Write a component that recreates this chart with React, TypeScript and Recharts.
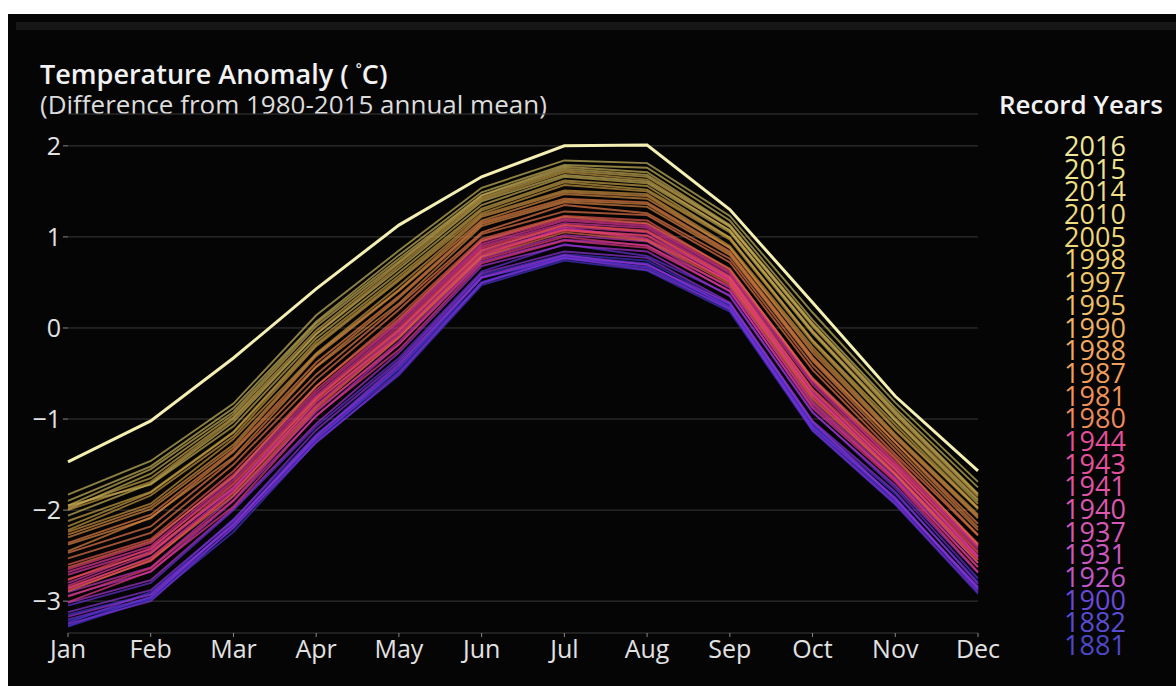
import { CartesianGrid, Line, LineChart, XAxis, YAxis } from 'recharts';

const months = ['Jan', 'Feb', 'Mar', 'Apr', 'May', 'Jun', 'Jul', 'Aug', 'Sep', 'Oct', 'Nov', 'Dec'];
const yTicks = [-3, -2, -1, 0, 1, 2];

// monthly anomaly per year (°C)
const y1881 = [-3.22, -2.97, -2.15, -1.24, -0.44, 0.5, 0.79, 0.66, 0.25, -1.06, -1.9, -2.84];
const y1882 = [-3.15, -2.92, -2.1, -1.18, -0.38, 0.58, 0.81, 0.74, 0.26, -1.05, -1.82, -2.79];
const y1884 = [-3.28, -2.98, -2.24, -1.25, -0.52, 0.47, 0.74, 0.63, 0.18, -1.13, -1.94, -2.92];
const y1887 = [-3.24, -2.9, -2.17, -1.17, -0.45, 0.55, 0.79, 0.71, 0.22, -1.08, -1.86, -2.87];
const y1893 = [-3.27, -2.95, -2.2, -1.21, -0.48, 0.5, 0.76, 0.67, 0.2, -1.1, -1.91, -2.86];
const y1900 = [-3.05, -2.8, -2.0, -1.08, -0.33, 0.62, 0.92, 0.79, 0.36, -0.92, -1.76, -2.75];
const y1904 = [-3.2, -2.96, -2.13, -1.22, -0.42, 0.55, 0.77, 0.7, 0.23, -1.09, -1.87, -2.88];
const y1909 = [-3.25, -3.0, -2.19, -1.26, -0.5, 0.49, 0.77, 0.64, 0.21, -1.12, -1.93, -2.9];
const y1913 = [-3.12, -2.88, -2.11, -1.12, -0.36, 0.6, 0.84, 0.77, 0.28, -1.02, -1.8, -2.81];
const y1917 = [-3.17, -2.93, -2.16, -1.19, -0.4, 0.56, 0.8, 0.69, 0.27, -1.03, -1.88, -2.85];
const y1921 = [-3.02, -2.77, -1.98, -1.05, -0.27, 0.68, 0.91, 0.84, 0.35, -0.93, -1.73, -2.69];
const y1926 = [-2.94, -2.68, -1.9, -0.97, -0.18, 0.73, 0.97, 0.91, 0.4, -0.86, -1.66, -2.62];
const y1931 = [-2.9, -2.63, -1.85, -0.92, -0.15, 0.77, 1.02, 0.95, 0.44, -0.81, -1.64, -2.58];
const y1937 = [-2.86, -2.52, -1.78, -0.85, -0.07, 0.8, 1.1, 0.98, 0.52, -0.72, -1.6, -2.52];
const y1940 = [-2.8, -2.45, -1.76, -0.77, -0.02, 0.86, 1.11, 1.05, 0.53, -0.7, -1.54, -2.51];
const y1941 = [-2.71, -2.43, -1.67, -0.74, 0.03, 0.9, 1.15, 1.1, 0.57, -0.62, -1.52, -2.42];
const y1943 = [-2.83, -2.48, -1.75, -0.82, -0.05, 0.84, 1.08, 1.02, 0.54, -0.73, -1.56, -2.5];
const y1944 = [-2.68, -2.4, -1.64, -0.71, 0.06, 0.92, 1.18, 1.12, 0.6, -0.59, -1.49, -2.4];
const y1950 = [-3.01, -2.67, -1.96, -0.96, -0.24, 0.71, 0.96, 0.88, 0.41, -0.88, -1.69, -2.68];
const y1953 = [-2.65, -2.36, -1.61, -0.68, 0.08, 0.95, 1.2, 1.14, 0.62, -0.57, -1.47, -2.39];
const y1956 = [-2.95, -2.64, -1.89, -0.9, -0.18, 0.75, 1.0, 0.9, 0.46, -0.83, -1.67, -2.63];
const y1959 = [-2.87, -2.56, -1.8, -0.86, -0.1, 0.79, 1.08, 0.97, 0.51, -0.76, -1.61, -2.54];
const y1962 = [-2.77, -2.42, -1.7, -0.76, 0.0, 0.88, 1.13, 1.07, 0.56, -0.67, -1.51, -2.45];
const y1968 = [-2.85, -2.53, -1.81, -0.8, -0.09, 0.82, 1.07, 1.01, 0.5, -0.74, -1.59, -2.55];
const y1970 = [-2.76, -2.47, -1.72, -0.78, -0.03, 0.85, 1.13, 1.06, 0.55, -0.68, -1.55, -2.47];
const y1973 = [-2.6, -2.32, -1.57, -0.64, 0.13, 0.98, 1.23, 1.18, 0.64, -0.55, -1.42, -2.38];
const y1976 = [-2.89, -2.55, -1.84, -0.88, -0.11, 0.78, 1.05, 0.96, 0.48, -0.78, -1.61, -2.58];
const y1977 = [-2.63, -2.34, -1.63, -0.64, 0.1, 0.96, 1.22, 1.15, 0.65, -0.56, -1.44, -2.37];
const y1980 = [-2.53, -2.25, -1.5, -0.57, 0.2, 1.03, 1.28, 1.24, 0.72, -0.46, -1.39, -2.28];
const y1981 = [-2.47, -2.18, -1.44, -0.51, 0.25, 1.05, 1.35, 1.26, 0.76, -0.41, -1.34, -2.27];
const y1983 = [-2.36, -2.05, -1.34, -0.38, 0.35, 1.16, 1.42, 1.38, 0.84, -0.32, -1.25, -2.15];
const y1987 = [-2.45, -2.08, -1.42, -0.43, 0.27, 1.12, 1.38, 1.33, 0.8, -0.36, -1.3, -2.22];
const y1988 = [-2.38, -2.09, -1.36, -0.42, 0.33, 1.14, 1.4, 1.36, 0.82, -0.34, -1.26, -2.19];
const y1990 = [-2.3, -1.99, -1.31, -0.31, 0.41, 1.18, 1.47, 1.42, 0.88, -0.27, -1.21, -2.09];
const y1991 = [-2.27, -1.96, -1.28, -0.29, 0.42, 1.22, 1.49, 1.45, 0.88, -0.24, -1.19, -2.07];
const y1995 = [-2.24, -1.93, -1.22, -0.28, 0.46, 1.24, 1.51, 1.47, 0.9, -0.21, -1.17, -2.05];
const y1997 = [-2.22, -1.84, -1.19, -0.2, 0.52, 1.26, 1.57, 1.5, 0.97, -0.16, -1.12, -1.99];
const y1998 = [-2.0, -1.69, -1.0, -0.06, 0.68, 1.41, 1.71, 1.63, 1.07, -0.03, -0.99, -1.88];
const y2001 = [-2.18, -1.81, -1.15, -0.18, 0.54, 1.29, 1.6, 1.52, 0.99, -0.14, -1.1, -1.98];
const y2002 = [-2.12, -1.8, -1.14, -0.15, 0.57, 1.31, 1.62, 1.56, 0.99, -0.13, -1.06, -1.97];
const y2005 = [-1.97, -1.65, -0.98, -0.03, 0.71, 1.43, 1.73, 1.66, 1.11, 0.02, -0.95, -1.85];
const y2007 = [-1.95, -1.72, -1.08, -0.11, 0.61, 1.35, 1.66, 1.59, 1.05, -0.06, -1.02, -1.93];
const y2009 = [-1.99, -1.6, -0.95, 0.02, 0.73, 1.45, 1.75, 1.68, 1.12, 0.04, -0.93, -1.83];
const y2010 = [-1.95, -1.55, -0.92, 0.05, 0.76, 1.46, 1.77, 1.71, 1.13, 0.05, -0.91, -1.82];
const y2012 = [-2.06, -1.71, -1.03, -0.07, 0.65, 1.39, 1.68, 1.61, 1.07, -0.04, -1.01, -1.9];
const y2014 = [-1.9, -1.52, -0.88, 0.07, 0.8, 1.49, 1.79, 1.76, 1.18, 0.09, -0.88, -1.75];
const y2015 = [-1.83, -1.46, -0.83, 0.14, 0.85, 1.54, 1.84, 1.81, 1.23, 0.17, -0.82, -1.69];
const y2016 = [-1.47, -1.02, -0.33, 0.43, 1.13, 1.66, 2.0, 2.01, 1.3, 0.28, -0.75, -1.57];

const series: [number, number[]][] = [
  [1881, y1881], [1882, y1882], [1884, y1884], [1887, y1887], [1893, y1893], [1900, y1900],
  [1904, y1904], [1909, y1909], [1913, y1913], [1917, y1917], [1921, y1921], [1926, y1926],
  [1931, y1931], [1937, y1937], [1940, y1940], [1941, y1941], [1943, y1943], [1944, y1944],
  [1950, y1950], [1953, y1953], [1956, y1956], [1959, y1959], [1962, y1962], [1968, y1968],
  [1970, y1970], [1973, y1973], [1976, y1976], [1977, y1977], [1980, y1980], [1981, y1981],
  [1983, y1983], [1987, y1987], [1988, y1988], [1990, y1990], [1991, y1991], [1995, y1995],
  [1997, y1997], [1998, y1998], [2001, y2001], [2002, y2002], [2005, y2005], [2007, y2007],
  [2009, y2009], [2010, y2010], [2012, y2012], [2014, y2014], [2015, y2015],
];

const recordYears = ['2016', '2015', '2014', '2010', '2005', '1998', '1997', '1995', '1990', '1988', '1987',
  '1981', '1980', '1944', '1943', '1941', '1940', '1937', '1931', '1926', '1900', '1882', '1881'];
const recordColors = ['#efe69c', '#eee28e', '#eedf86', '#eedb80', '#efd67a', '#f0cf72', '#f0c86c', '#f0c068',
  '#f0b264', '#f0a860', '#f09e5c', '#f0925a', '#ee8a5e', '#e6509a', '#e4529c', '#e054a6', '#dc58ae',
  '#d658b6', '#cc58c0', '#c056c8', '#6a4ad8', '#5a4cd2', '#4e48c8'];

const stops: [number, number[]][] = [
  [1880, [58, 50, 200]], [1905, [112, 50, 216]], [1925, [178, 52, 206]], [1945, [226, 56, 150]],
  [1965, [232, 62, 88]], [1982, [228, 122, 70]], [1997, [196, 150, 62]], [2015, [198, 182, 92]],
];

function yearColor(y: number) {
  for (let i = 0; i < stops.length - 1; i++) {
    const [a, ca] = stops[i];
    const [b, cb] = stops[i + 1];
    if (y <= b) {
      const t = Math.max(0, (y - a) / (b - a));
      const c = ca.map((v, k) => Math.round(v + (cb[k] - v) * t));
      return `rgb(${c[0]},${c[1]},${c[2]})`;
    }
  }
  const c = stops[stops.length - 1][1];
  return `rgb(${c[0]},${c[1]},${c[2]})`;
}

const rows = months.map((m, i) => {
  const row: Record<string, number | string> = { month: m, y2016: y2016[i] };
  series.forEach(([yr, vals]) => (row[`y${yr}`] = vals[i]));
  return row;
});

const font = '"Open Sans", Lato, sans-serif';
const fmt = (v: number) => (v < 0 ? `\u2212${Math.abs(v)}` : `${v}`);

export default function App() {
  return (
    <div style={{ position: 'absolute', left: 8, top: 14, width: 1168, height: 672, background: '#050505', fontFamily: font, overflow: 'hidden' }}>
      <div style={{ position: 'absolute', left: 8, top: 8, right: 0, height: 8, background: '#161616' }} />
      <div style={{ position: 'absolute', left: 32, top: 41, color: '#f2f2f2', fontSize: 27, fontWeight: 600, whiteSpace: 'nowrap' }}>
        Temperature Anomaly ( <span style={{ fontSize: 14, verticalAlign: 'super' }}>°</span>C)
      </div>
      <div style={{ position: 'absolute', left: 32, top: 72, color: '#dcdcdc', fontSize: 26, whiteSpace: 'nowrap' }}>
        (Difference from 1980-2015 annual mean)
      </div>
      <div style={{ position: 'absolute', left: 991, top: 72, color: '#f2f2f2', fontSize: 26, fontWeight: 600, whiteSpace: 'nowrap' }}>
        Record Years
      </div>
      <div style={{ position: 'absolute', left: 1045, top: 121, width: 84, textAlign: 'center' }}>
        {recordYears.map((y, i) => (
          <div key={y} style={{ color: recordColors[i], fontSize: 27, lineHeight: '22.7px', height: 22.7 }}>{y}</div>
        ))}
      </div>
      <LineChart width={1168} height={672} data={rows} margin={{ top: 100, right: 198, bottom: 13, left: 10 }}>
        <CartesianGrid stroke="#3a3a3a" vertical={false} />
        <XAxis
          dataKey="month"
          axisLine={false}
          tickLine={{ stroke: '#888' }}
          tickSize={4}
          tickMargin={3}
          height={40}
          interval={0}
          tick={{ fill: '#e2e2e2', fontSize: 25, fontFamily: font }}
        />
        <YAxis
          domain={[-3.35, 2.35]}
          ticks={yTicks}
          tickFormatter={fmt}
          axisLine={false}
          tickLine={{ stroke: '#888' }}
          tickSize={5}
          tickMargin={2}
          width={50}
          tick={{ fill: '#e2e2e2', fontSize: 25, fontFamily: font }}
        />
        {series.map(([yr]) => (
          <Line
            key={yr}
            dataKey={`y${yr}`}
            type="linear"
            stroke={yearColor(yr)}
            strokeOpacity={0.7}
            strokeWidth={1.9}
            dot={false}
            isAnimationActive={false}
          />
        ))}
        <Line dataKey="y2016" type="linear" stroke="#f4efb2" strokeWidth={3} dot={false} isAnimationActive={false} />
      </LineChart>
    </div>
  );
}
